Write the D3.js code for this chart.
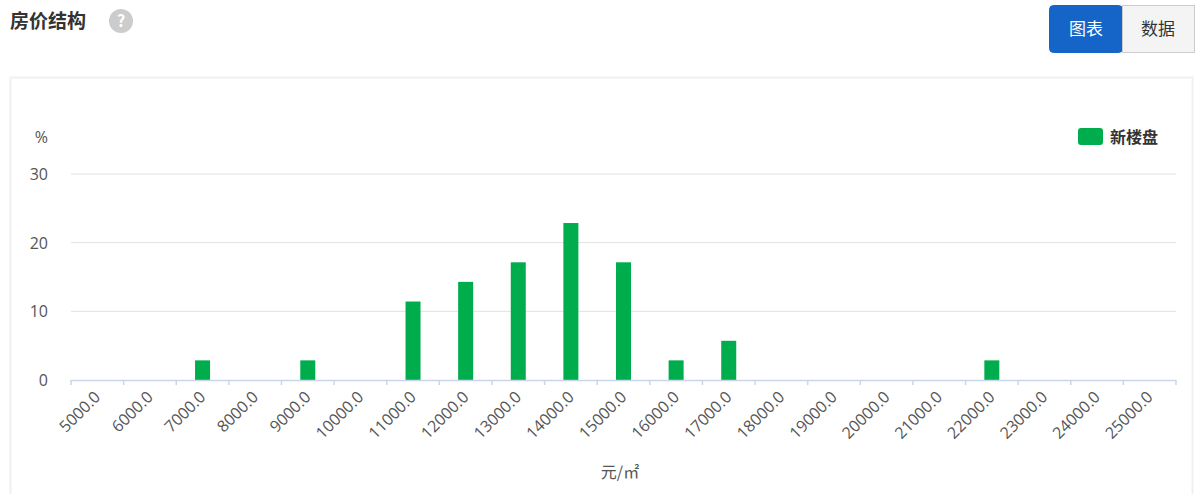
<!DOCTYPE html>
<html><head><meta charset="utf-8">
<script src="https://cdn.jsdelivr.net/npm/d3@7"></script>
<style>body{margin:0;background:#fff;font-family:"Noto Sans CJK SC","Noto Sans",sans-serif;}</style>
</head><body><svg id="c" width="1200" height="494"></svg>
<script>
const categories=["5000.0","6000.0","7000.0","8000.0","9000.0","10000.0","11000.0","12000.0","13000.0","14000.0","15000.0","16000.0","17000.0","18000.0","19000.0","20000.0","21000.0","22000.0","23000.0","24000.0","25000.0"];
const values=[0,0,2.86,0,2.86,0,11.43,14.29,17.14,22.86,17.14,2.86,5.71,0,0,0,0,2.86,0,0,0];
const yTicks=[0,10,20,30];
const svg=d3.select("#c");
const font='"Noto Sans CJK SC","Noto Sans",sans-serif';
const tfont='"Open Sans","Noto Sans",sans-serif';
svg.append("text").attr("x",10).attr("y",28).text("房价结构").attr("font-size",19).attr("font-weight","bold").attr("fill","#333").attr("font-family",font);
svg.append("circle").attr("cx",121).attr("cy",21).attr("r",12).attr("fill","#ccc");
svg.append("text").attr("x",121).attr("y",27).attr("text-anchor","middle").text("?").attr("font-size",16).attr("font-weight","bold").attr("fill","#fff").attr("font-family",font);
svg.append("rect").attr("x",1049.5).attr("y",5.5).attr("width",73).attr("height",47).attr("rx",4).attr("fill","#1565c8").attr("stroke","#1565c8");
svg.append("rect").attr("x",1122.5).attr("y",5.5).attr("width",72).attr("height",47).attr("fill","#f4f4f4").attr("stroke","#ccc");
svg.append("text").attr("x",1086).attr("y",35).attr("text-anchor","middle").text("图表").attr("font-size",17).attr("fill","#fff").attr("font-family",font);
svg.append("text").attr("x",1158).attr("y",35).attr("text-anchor","middle").text("数据").attr("font-size",17).attr("fill","#333").attr("font-family",font);
svg.append("rect").attr("x",10.5).attr("y",77.5).attr("width",1182).attr("height",430).attr("fill","none").attr("stroke","#f0f0f0").attr("stroke-width",2);
const x=d3.scaleBand().domain(categories).range([71,1176]);
const y=d3.scaleLinear().domain([0,30]).range([380,174]);
const g=svg.append("g");
yTicks.forEach(t=>{
  if(t>0) g.append("line").attr("x1",71).attr("x2",1176).attr("y1",y(t)).attr("y2",y(t)).attr("stroke","#e0e0e0");
  g.append("text").attr("x",48).attr("y",y(t)+6).attr("text-anchor","end").text(t).attr("font-size",16).attr("fill","#555").attr("font-family",tfont);
});
g.append("text").attr("x",48).attr("y",143).attr("text-anchor","end").text("%").attr("font-size",16).attr("fill","#555").attr("font-family",tfont);
g.selectAll("rect.b").data(values).enter().append("rect")
 .attr("x",(d,i)=>x(categories[i])+x.bandwidth()/2-7.5).attr("width",15)
 .attr("y",d=>y(d)).attr("height",d=>380-y(d)).attr("fill","#00ad4d");
g.append("line").attr("x1",71).attr("x2",1176).attr("y1",380.5).attr("y2",380.5).attr("stroke","#c9d6ea").attr("stroke-width",1.5);
const ticks=categories.map(c=>x(c)).concat([1176]);
ticks.forEach(t=>g.append("line").attr("x1",t).attr("x2",t).attr("y1",380).attr("y2",385).attr("stroke","#c9d6ea").attr("stroke-width",1.5));
categories.forEach(c=>{
  const cx=x(c)+x.bandwidth()/2;
  g.append("text").attr("transform",`translate(${cx+4},${398}) rotate(-45)`).attr("text-anchor","end").text(c).attr("font-size",16).attr("fill","#555").attr("font-family",tfont);
});
g.append("text").attr("x",620).attr("y",478).attr("text-anchor","middle").text("元/㎡").attr("font-size",16).attr("fill","#555").attr("font-family",font);
svg.append("rect").attr("x",1078).attr("y",128).attr("width",25).attr("height",17).attr("rx",3).attr("fill","#00ad4d");
svg.append("text").attr("x",1110).attr("y",143).text("新楼盘").attr("font-size",16).attr("font-weight","bold").attr("fill","#333").attr("font-family",font);
</script></body></html>
